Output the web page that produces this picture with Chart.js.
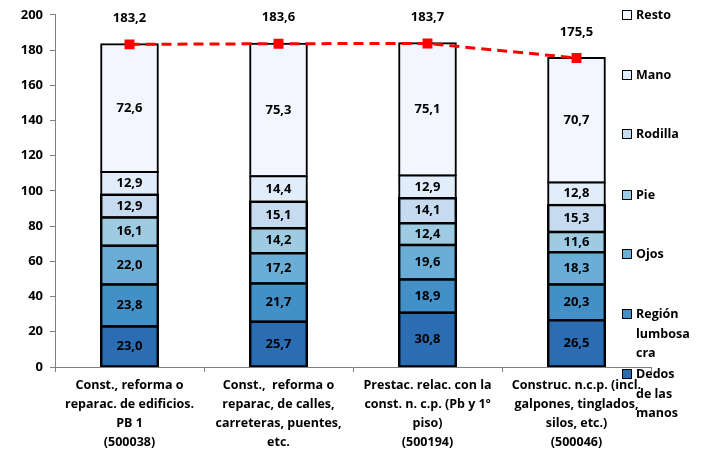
<!DOCTYPE html>
<html>
<head>
<meta charset="utf-8">
<script src="https://cdn.jsdelivr.net/npm/chart.js@4/dist/chart.umd.min.js"></script>
<style>
  html, body { margin: 0; padding: 0; background: #fff; }
  #wrap { position: relative; width: 727px; height: 454px; }
  #legend { position: absolute; left: 622px; top: 0; font-family: "Open Sans", sans-serif; font-weight: 700; font-size: 12.5px; color: #000; }
  .item { position: absolute; left: 0; width: 110px; line-height: 19.5px; }
  .box { position: absolute; left: 0; top: 5px; width: 8px; height: 8px; border: 1.5px solid #000; }
  .txt { position: absolute; left: 14px; top: 0; white-space: nowrap; }
</style>
</head>
<body>
<div id="wrap">
  <canvas id="c" width="727" height="454"></canvas>
  <div id="legend"></div>
</div>
<script>
const categories = [
  ["Const., reforma o", "reparac. de edificios.", "PB 1", "(500038)"],
  ["Const.,  reforma o", "reparac, de calles,", "carreteras, puentes,", "etc."],
  ["Prestac. relac. con la", "const. n. c.p. (Pb y 1º", "piso)", "(500194)"],
  ["Construc. n.c.p. (incl.", "galpones, tinglados,", "silos, etc.)", "(500046)"]
];
const seriesNames = ["Dedos de las manos", "Región lumbosacra", "Ojos", "Pie", "Rodilla", "Mano", "Resto"];
const legendLines = [["Dedos", "de las", "manos"], ["Región", "lumbosa", "cra"], ["Ojos"], ["Pie"], ["Rodilla"], ["Mano"], ["Resto"]];
const dedos   = [23.0, 25.7, 30.8, 26.5];
const region  = [23.8, 21.7, 18.9, 20.3];
const ojos    = [22.0, 17.2, 19.6, 18.3];
const pie     = [16.1, 14.2, 12.4, 11.6];
const rodilla = [12.9, 15.1, 14.1, 15.3];
const mano    = [12.9, 14.4, 12.9, 12.8];
const resto   = [72.6, 75.3, 75.1, 70.7];
const totals  = [183.2, 183.6, 183.7, 175.5];
const yTicks  = [0, 20, 40, 60, 80, 100, 120, 140, 160, 180, 200];

const seriesValues = [dedos, region, ojos, pie, rodilla, mano, resto];
const colors = ["#2a6db3", "#4390c8", "#6aaed8", "#9ecbe2", "#c6dbef", "#e2edfb", "#f3f6fe"];
const borderWidths = [2.5, 2.5, 2.5, 2.5, 2.5, 2, 2];

const FONT = "'Open Sans', sans-serif";
const fmt = v => v.toFixed(1).replace('.', ',');

const datasets = seriesValues.map((vals, i) => ({
  type: 'bar',
  label: seriesNames[i],
  data: vals,
  backgroundColor: colors[i],
  borderColor: '#000',
  borderWidth: borderWidths[i],
  borderSkipped: false,
  inflateAmount: borderWidths[i] / 2,
  stack: 'bars',
  order: 1,
  categoryPercentage: 1,
  barPercentage: 0.38
}));
datasets.push({
  type: 'line',
  label: 'Total',
  data: totals,
  borderColor: '#ff0000',
  backgroundColor: '#ff0000',
  borderWidth: 3,
  borderDash: [10, 6],
  pointStyle: 'rect',
  pointRadius: 7,
  pointHoverRadius: 7,
  pointBorderWidth: 0,
  stack: 'line',
  order: 0,
  isTotal: true
});

const labelPlugin = {
  id: 'valueLabels',
  afterDatasetsDraw(chart) {
    const ctx = chart.ctx;
    ctx.save();
    ctx.font = "700 13px " + FONT;
    ctx.fillStyle = '#000';
    ctx.textAlign = 'center';
    ctx.textBaseline = 'middle';
    chart.data.datasets.forEach((ds, di) => {
      const meta = chart.getDatasetMeta(di);
      meta.data.forEach((el, i) => {
        const v = ds.data[i];
        if (ds.isTotal) {
          ctx.fillText(fmt(v), el.x, el.y - 26);
        } else {
          const props = el.getProps(['x', 'y', 'base'], true);
          ctx.fillText(fmt(v), props.x, (props.y + props.base) / 2);
        }
      });
    });
    ctx.restore();
  }
};

new Chart(document.getElementById('c'), {
  data: { labels: categories, datasets },
  options: {
    responsive: false,
    animation: false,
    layout: { padding: { top: 13, right: 76, left: 0, bottom: 0 } },
    plugins: { legend: { display: false }, tooltip: { enabled: false } },
    scales: {
      x: {
        stacked: true,
        offset: true,
        grid: { display: true, drawOnChartArea: false, offset: true, color: '#808080', tickLength: 5 },
        border: { color: '#808080', width: 1 },
        ticks: { font: { family: FONT, weight: '700', size: 12.5, lineHeight: 1.52 }, color: '#000', maxRotation: 0, autoSkip: false, padding: 4 },
        afterFit(s) { s.height = 87; }
      },
      y: {
        stacked: true,
        min: 0, max: 200,
        afterBuildTicks(s) { s.ticks = yTicks.map(v => ({ value: v })); },
        grid: { display: true, drawOnChartArea: false, color: '#808080', tickLength: 5 },
        border: { color: '#808080', width: 1 },
        ticks: { font: { family: FONT, weight: '700', size: 13 }, color: '#000', padding: 7 },
        afterFit(s) { s.width = 55; }
      }
    }
  },
  plugins: [labelPlugin]
});

// HTML legend (reversed order)
const legendTops = [364, 304, 244, 185, 124, 65, 5];
const lg = document.getElementById('legend');
seriesNames.forEach((name, i) => {
  const it = document.createElement('div');
  it.className = 'item';
  it.style.top = legendTops[i] + 'px';
  it.title = name;
  const b = document.createElement('div');
  b.className = 'box';
  b.style.background = colors[i];
  const t = document.createElement('div');
  t.className = 'txt';
  t.innerHTML = legendLines[i].join('<br>');
  it.appendChild(b); it.appendChild(t);
  lg.appendChild(it);
});
</script>
</body>
</html>
